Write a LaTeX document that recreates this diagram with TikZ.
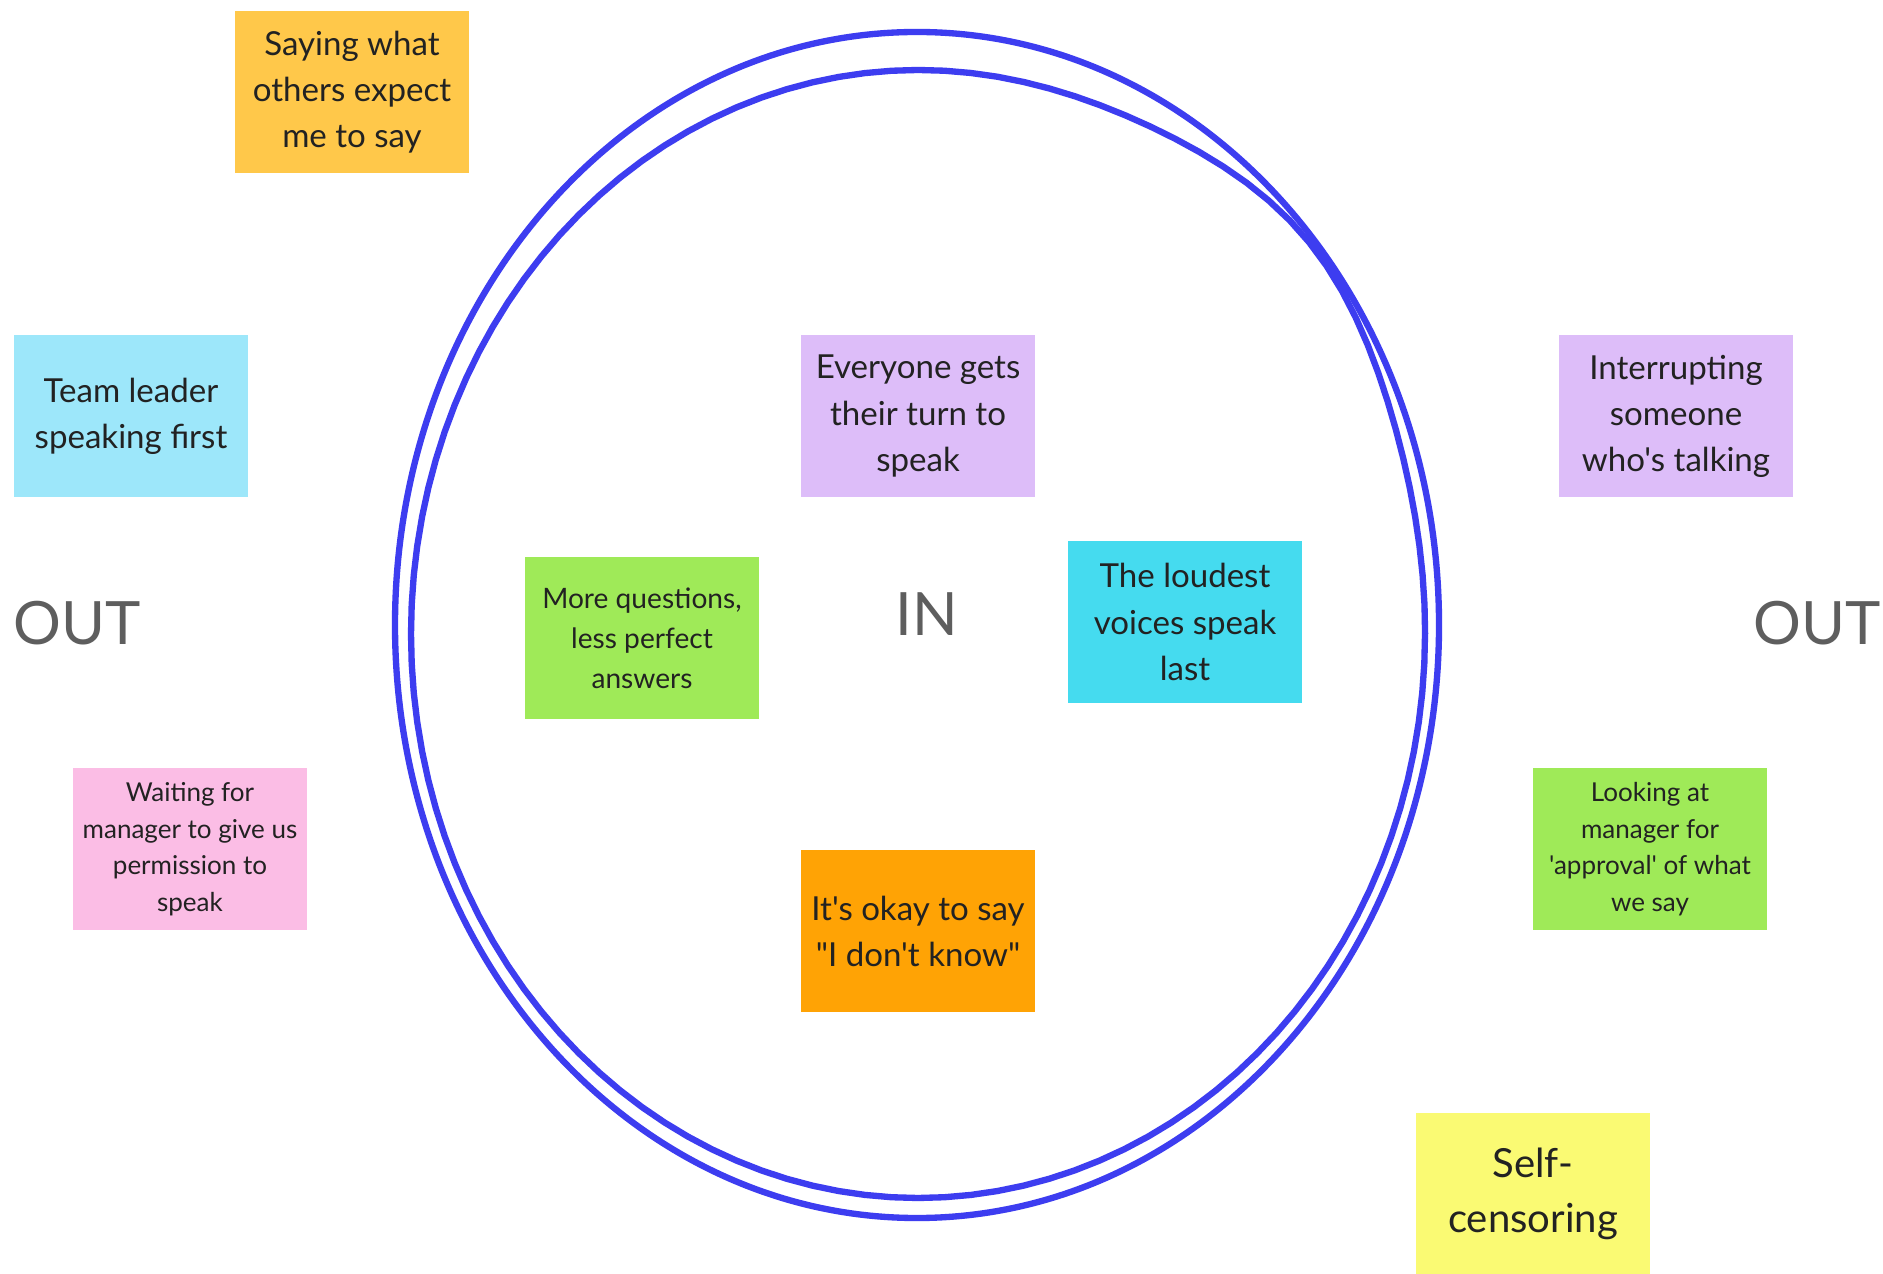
\documentclass[tikz,border=0pt]{standalone}
\usepackage{fontspec}
\setmainfont{Lato}[Ligatures=TeXOff]
\usepackage{tikz}
\usetikzlibrary{positioning}
\usepackage{xcolor}
\definecolor{ringblue}{HTML}{3D3DF0}
\definecolor{labelgray}{HTML}{5E5E5E}
\definecolor{notetext}{HTML}{222222}
\definecolor{amber}{HTML}{FFC84A}
\definecolor{skyblue}{HTML}{9DE7FA}
\definecolor{pinknote}{HTML}{FBBDE5}
\definecolor{limenote}{HTML}{9FEA58}
\definecolor{lemon}{HTML}{FAFA73}
\definecolor{lavender}{HTML}{DDBDF9}
\definecolor{aqua}{HTML}{45DBEF}
\definecolor{tangerine}{HTML}{FFA305}
\tikzset{%
	sticky/.style={
		rectangle,
		draw=none,
		text=notetext,
		align=center,
		inner sep=0pt,
		minimum width=2.34cm,
		minimum height=1.62cm,
		font=\fontsize{9.4}{13.1}\selectfont
	},
	small sticky/.style={
		sticky,
		font=\fontsize{7.4}{10.4}\selectfont
	},
	zone label/.style={
		draw=none,
		fill=none,
		text=labelgray,
		font=\fontsize{17}{20}\selectfont
	},
	ring/.style={
		draw=ringblue,
		line width=1.8pt,
		line join=round
	}
}
\begin{document}
\begin{tikzpicture}[x=0.01cm, y=-0.01cm]
			\useasboundingbox[fill=white] (0,0) rectangle (1883,1274);
			
			% the two hand-drawn loops
			\draw[ring] (917,625) ellipse [x radius=522, y radius=593];
			\draw[ring] plot[domain=0:360, samples=121, variable=\t]
				({918+507*cos(\t)*(1+0.038*exp(-((\t-42)/18)^2))},
				 {634-564*sin(\t)*(1+0.038*exp(-((\t-42)/18)^2))}) -- cycle;
			
			% Zone labels
			\node[zone label] (outL) at (77,623) {OUT};
			\node[zone label] (outR) at (1817,623) {OUT};
			\node[zone label] (in) at (927,614) {IN};
			
			% Notes inside the circle
			\node[sticky, fill=lavender] (turn) at (918,416) {Everyone gets\\their turn to\\speak};
			\node[sticky, fill=limenote, font=\fontsize{8}{11.4}\selectfont] (questions) at (642,638) {More questions,\\less perfect\\answers};
			\node[sticky, fill=aqua] (loudest) at (1185,622) {The loudest\\voices speak\\last};
			\node[sticky, fill=tangerine] (dontknow) at (918,931) {It's okay to say\\"I don't know"};
			
			% Notes outside the circle
			\node[sticky, fill=amber] (expect) at (352,92) {Saying what\\others expect\\me to say};
			\node[sticky, fill=skyblue] (leader) at (131,416) {Team leader\\speaking first};
			\node[small sticky, fill=pinknote] (waiting) at (190,849) {Waiting for\\manager to give us\\permission to\\speak};
			\node[sticky, fill=lavender] (interrupt) at (1676,416) {Interrupting\\someone\\who's talking};
			\node[small sticky, fill=limenote] (approval) at (1650,849) {Looking at\\manager for\\'approval' of what\\we say};
			\node[sticky, fill=lemon, font=\fontsize{11.4}{15.6}\selectfont] (censor) at (1533,1194) {Self-\\censoring};
			
		\end{tikzpicture}
\end{document}
